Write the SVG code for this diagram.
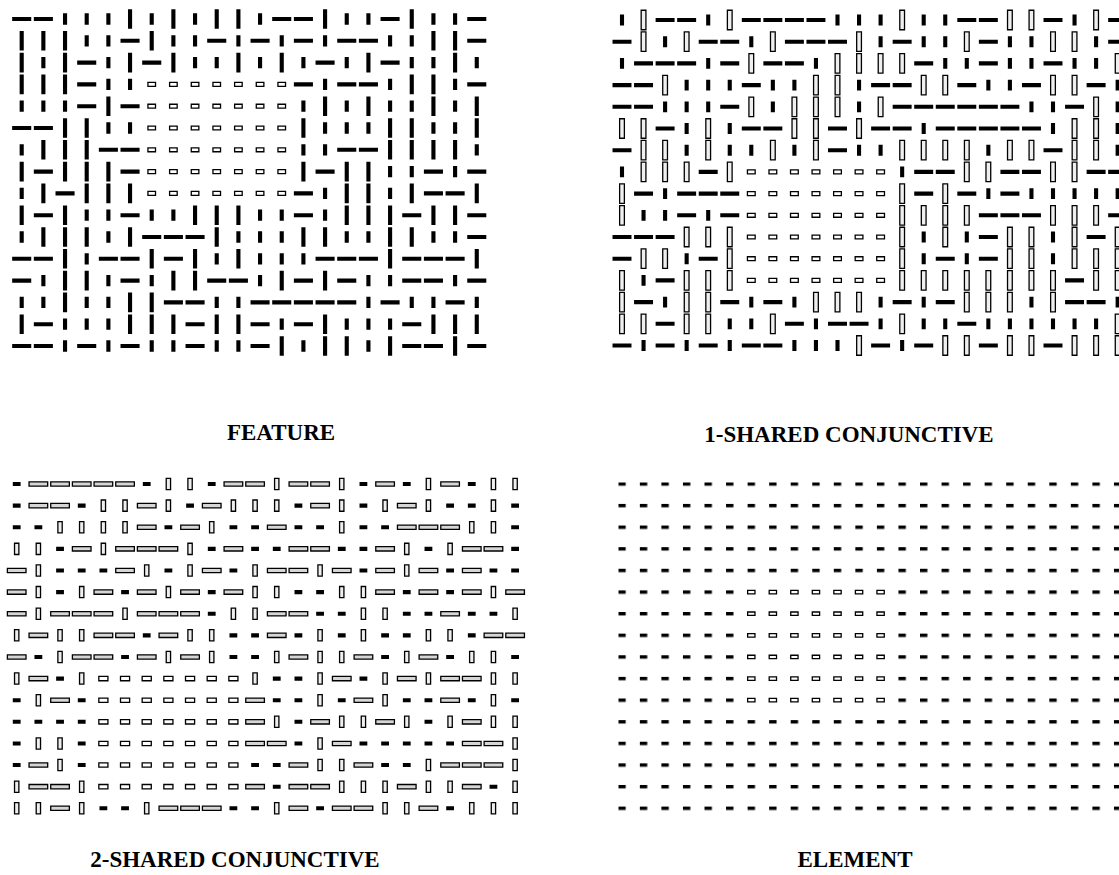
<svg xmlns="http://www.w3.org/2000/svg" width="1119" height="875" viewBox="0 0 1119 875">
<style>
.k{fill:none;stroke:#000;stroke-width:.19}
.w{fill:#fff;stroke:#000;stroke-width:.06}
.g1{fill:#efefef;stroke:#000;stroke-width:.06}
.g2{fill:#d6d6d6;stroke:#000;stroke-width:.06}
.lbl{font-family:"Liberation Serif","Times New Roman",serif;font-weight:700;font-size:23px;text-anchor:middle;fill:#000}
</style>
<defs>
<pattern id="dash" x="618.3" y="482.3" width="21.55" height="21.62" patternUnits="userSpaceOnUse"><rect width="7.4" height="3.4" fill="#000"/></pattern>
</defs>
<rect width="1119" height="875" fill="#fff"/>

<g id="feature" transform="translate(21.7 19) scale(21.67 21.8)">
<path class="k" transform="translate(-.44 0)" d="M0 0h.88M1 0h.88M12 0h.88M13 0h.88M17 0h.88M21 0h.88M5 1h.88M9 1h.88M11 1h.88M13 1h.88M15 1h.88M16 1h.88M21 1h.88M3 2h.88M6 2h.88M14 2h.88M17 2h.88M3 3h.88M13 3h.88M15 3h.88M16 3h.88M21 3h.88M3 4h.88M5 4h.88M0 5h.88M1 5h.88M4 6h.88M5 6h.88M15 6h.88M16 6h.88M1 7h.88M5 7h.88M14 7h.88M19 7h.88M21 7h.88M2 8h.88M13 8h.88M19 8h.88M20 8h.88M1 9h.88M5 9h.88M13 9h.88M18 9h.88M21 9h.88M6 10h.88M7 10h.88M8 10h.88M21 10h.88M0 11h.88M1 11h.88M4 11h.88M5 11h.88M7 11h.88M14 11h.88M15 11h.88M16 11h.88M18 11h.88M19 11h.88M20 11h.88M0 12h.88M5 12h.88M9 12h.88M10 12h.88M13 12h.88M15 12h.88M18 12h.88M19 12h.88M21 12h.88M7 13h.88M8 13h.88M11 13h.88M12 13h.88M13 13h.88M14 13h.88M15 13h.88M17 13h.88M20 13h.88M1 14h.88M8 14h.88M11 14h.88M13 14h.88M18 14h.88M0 15h.88M1 15h.88M3 15h.88M5 15h.88M8 15h.88M11 15h.88M18 15h.88M19 15h.88M21 15h.88"/>
<path class="k" transform="translate(0 -.45)" d="M5 0v.9M7 0v.9M9 0v.9M10 0v.9M14 0v.9M18 0v.9M0 1v.9M1 1v.9M2 1v.9M6 1v.9M19 1v.9M20 1v.9M0 2v.9M2 2v.9M5 2v.9M7 2v.9M10 2v.9M12 2v.9M16 2v.9M20 2v.9M0 3v.9M1 3v.9M2 3v.9M18 3v.9M19 3v.9M4 4v.9M14 4v.9M16 4v.9M19 4v.9M21 4v.9M2 5v.9M3 5v.9M13 5v.9M17 5v.9M18 5v.9M21 5v.9M1 6v.9M2 6v.9M3 6v.9M17 6v.9M18 6v.9M19 6v.9M20 6v.9M0 7v.9M2 7v.9M3 7v.9M4 7v.9M13 7v.9M15 7v.9M16 7v.9M1 8v.9M3 8v.9M4 8v.9M5 8v.9M15 8v.9M16 8v.9M18 8v.9M21 8v.9M0 9v.9M2 9v.9M8 9v.9M9 9v.9M10 9v.9M15 9v.9M16 9v.9M17 9v.9M19 9v.9M20 9v.9M1 10v.9M2 10v.9M3 10v.9M5 10v.9M9 10v.9M13 10v.9M14 10v.9M17 10v.9M18 10v.9M2 11v.9M6 11v.9M8 11v.9M10 11v.9M17 11v.9M21 11v.9M2 12v.9M3 12v.9M7 12v.9M8 12v.9M12 12v.9M14 12v.9M2 13v.9M5 13v.9M6 13v.9M0 14v.9M5 14v.9M6 14v.9M7 14v.9M9 14v.9M10 14v.9M14 14v.9M19 14v.9M20 14v.9M21 14v.9M12 15v.9M14 15v.9M15 15v.9M17 15v.9M20 15v.9"/>
<path class="k" transform="translate(0 -.26)" d="M2 0v.52M3 0v.52M4 0v.52M6 0v.52M8 0v.52M11 0v.52M15 0v.52M16 0v.52M19 0v.52M20 0v.52M3 1v.52M4 1v.52M7 1v.52M8 1v.52M10 1v.52M12 1v.52M14 1v.52M17 1v.52M18 1v.52M1 2v.52M4 2v.52M8 2v.52M9 2v.52M11 2v.52M13 2v.52M15 2v.52M18 2v.52M19 2v.52M21 2v.52M4 3v.52M5 3v.52M14 3v.52M17 3v.52M20 3v.52M0 4v.52M1 4v.52M2 4v.52M13 4v.52M15 4v.52M17 4v.52M18 4v.52M20 4v.52M4 5v.52M5 5v.52M14 5v.52M15 5v.52M16 5v.52M19 5v.52M20 5v.52M0 6v.52M13 6v.52M14 6v.52M21 6v.52M17 7v.52M18 7v.52M20 7v.52M0 8v.52M14 8v.52M17 8v.52M3 9v.52M4 9v.52M6 9v.52M7 9v.52M11 9v.52M12 9v.52M14 9v.52M0 10v.52M4 10v.52M10 10v.52M11 10v.52M12 10v.52M15 10v.52M16 10v.52M19 10v.52M20 10v.52M3 11v.52M9 11v.52M11 11v.52M12 11v.52M13 11v.52M1 12v.52M4 12v.52M6 12v.52M11 12v.52M16 12v.52M17 12v.52M20 12v.52M0 13v.52M1 13v.52M3 13v.52M4 13v.52M9 13v.52M10 13v.52M16 13v.52M18 13v.52M19 13v.52M21 13v.52M2 14v.52M3 14v.52M4 14v.52M12 14v.52M15 14v.52M16 14v.52M17 14v.52M2 15v.52M4 15v.52M6 15v.52M7 15v.52M9 15v.52M10 15v.52M13 15v.52M16 15v.52"/>
<path class="w" transform="translate(-.175 -.09)" d="M6 3h.35v.18h-.35zm1 0h.35v.18h-.35zm1 0h.35v.18h-.35zm1 0h.35v.18h-.35zm1 0h.35v.18h-.35zm1 0h.35v.18h-.35zm1 0h.35v.18h-.35zM6 4h.35v.18h-.35zm1 0h.35v.18h-.35zm1 0h.35v.18h-.35zm1 0h.35v.18h-.35zm1 0h.35v.18h-.35zm1 0h.35v.18h-.35zm1 0h.35v.18h-.35zM6 5h.35v.18h-.35zm1 0h.35v.18h-.35zm1 0h.35v.18h-.35zm1 0h.35v.18h-.35zm1 0h.35v.18h-.35zm1 0h.35v.18h-.35zm1 0h.35v.18h-.35zM6 6h.35v.18h-.35zm1 0h.35v.18h-.35zm1 0h.35v.18h-.35zm1 0h.35v.18h-.35zm1 0h.35v.18h-.35zm1 0h.35v.18h-.35zm1 0h.35v.18h-.35zM6 7h.35v.18h-.35zm1 0h.35v.18h-.35zm1 0h.35v.18h-.35zm1 0h.35v.18h-.35zm1 0h.35v.18h-.35zm1 0h.35v.18h-.35zm1 0h.35v.18h-.35zM6 8h.35v.18h-.35zm1 0h.35v.18h-.35zm1 0h.35v.18h-.35zm1 0h.35v.18h-.35zm1 0h.35v.18h-.35zm1 0h.35v.18h-.35zm1 0h.35v.18h-.35z"/>
</g>

<g id="one-shared" transform="translate(622 20) scale(21.55 21.7)">
<path class="k" transform="translate(-.44 0)" d="M2 0h.88M3 0h.88M6 0h.88M7 0h.88M8 0h.88M9 0h.88M16 0h.88M17 0h.88M20 0h.88M23 0h.88M0 1h.88M4 1h.88M5 1h.88M8 1h.88M9 1h.88M10 1h.88M13 1h.88M17 1h.88M23 1h.88M1 2h.88M2 2h.88M3 2h.88M5 2h.88M7 2h.88M8 2h.88M14 2h.88M17 2h.88M20 2h.88M0 3h.88M1 3h.88M6 3h.88M12 3h.88M13 3h.88M16 3h.88M19 3h.88M22 3h.88M0 4h.88M1 4h.88M5 4h.88M13 4h.88M14 4h.88M15 4h.88M16 4h.88M17 4h.88M18 4h.88M21 4h.88M2 5h.88M6 5h.88M7 5h.88M10 5h.88M12 5h.88M13 5h.88M15 5h.88M16 5h.88M17 5h.88M18 5h.88M19 5h.88M0 6h.88M10 6h.88M20 6h.88M4 7h.88M14 7h.88M15 7h.88M18 7h.88M19 7h.88M22 7h.88M23 7h.88M1 8h.88M3 8h.88M4 8h.88M5 8h.88M14 8h.88M16 8h.88M18 8h.88M3 9h.88M5 9h.88M17 9h.88M18 9h.88M19 9h.88M23 9h.88M0 10h.88M1 10h.88M2 10h.88M17 10h.88M22 10h.88M0 11h.88M4 11h.88M15 11h.88M17 11h.88M2 12h.88M21 12h.88M1 13h.88M5 13h.88M7 13h.88M13 13h.88M15 13h.88M21 13h.88M22 13h.88M2 14h.88M8 14h.88M10 14h.88M11 14h.88M16 14h.88M0 15h.88M2 15h.88M4 15h.88M6 15h.88M7 15h.88M12 15h.88M14 15h.88M17 15h.88M20 15h.88"/>
<path class="k" transform="translate(0 -.25)" d="M0 0v.5M4 0v.5M10 0v.5M11 0v.5M12 0v.5M14 0v.5M15 0v.5M21 0v.5M2 1v.5M6 1v.5M12 1v.5M14 1v.5M15 1v.5M18 1v.5M19 1v.5M22 1v.5M0 2v.5M4 2v.5M9 2v.5M15 2v.5M16 2v.5M18 2v.5M19 2v.5M21 2v.5M22 2v.5M3 3v.5M4 3v.5M5 3v.5M7 3v.5M8 3v.5M11 3v.5M17 3v.5M18 3v.5M23 3v.5M2 4v.5M3 4v.5M4 4v.5M7 4v.5M11 4v.5M19 4v.5M20 4v.5M23 4v.5M3 5v.5M5 5v.5M14 5v.5M20 5v.5M23 5v.5M3 6v.5M5 6v.5M6 6v.5M8 6v.5M11 6v.5M12 6v.5M17 6v.5M23 6v.5M0 7v.5M13 7v.5M2 8v.5M17 8v.5M19 8v.5M20 8v.5M21 8v.5M22 8v.5M23 8v.5M1 9v.5M2 9v.5M4 9v.5M14 10v.5M16 10v.5M20 10v.5M3 11v.5M14 11v.5M16 11v.5M20 11v.5M1 12v.5M2 13v.5M6 13v.5M8 13v.5M12 13v.5M14 13v.5M19 13v.5M23 13v.5M5 14v.5M6 14v.5M9 14v.5M12 14v.5M14 14v.5M15 14v.5M17 14v.5M18 14v.5M19 14v.5M20 14v.5M21 14v.5M22 14v.5M1 15v.5M3 15v.5M5 15v.5M8 15v.5M9 15v.5M10 15v.5M13 15v.5"/>
<path class="g1" transform="translate(-.11 -.45)" d="M1 0h.22v.9h-.22zM5 0h.22v.9h-.22zM13 0h.22v.9h-.22zM18 0h.22v.9h-.22zM19 0h.22v.9h-.22zM22 0h.22v.9h-.22zM1 1h.22v.9h-.22zM3 1h.22v.9h-.22zM7 1h.22v.9h-.22zM11 1h.22v.9h-.22zM16 1h.22v.9h-.22zM20 1h.22v.9h-.22zM21 1h.22v.9h-.22zM6 2h.22v.9h-.22zM10 2h.22v.9h-.22zM11 2h.22v.9h-.22zM12 2h.22v.9h-.22zM13 2h.22v.9h-.22zM23 2h.22v.9h-.22zM2 3h.22v.9h-.22zM9 3h.22v.9h-.22zM10 3h.22v.9h-.22zM14 3h.22v.9h-.22zM15 3h.22v.9h-.22zM20 3h.22v.9h-.22zM21 3h.22v.9h-.22zM6 4h.22v.9h-.22zM8 4h.22v.9h-.22zM9 4h.22v.9h-.22zM10 4h.22v.9h-.22zM12 4h.22v.9h-.22zM22 4h.22v.9h-.22zM0 5h.22v.9h-.22zM1 5h.22v.9h-.22zM4 5h.22v.9h-.22zM8 5h.22v.9h-.22zM9 5h.22v.9h-.22zM11 5h.22v.9h-.22zM21 5h.22v.9h-.22zM22 5h.22v.9h-.22zM1 6h.22v.9h-.22zM2 6h.22v.9h-.22zM4 6h.22v.9h-.22zM7 6h.22v.9h-.22zM9 6h.22v.9h-.22zM13 6h.22v.9h-.22zM14 6h.22v.9h-.22zM15 6h.22v.9h-.22zM16 6h.22v.9h-.22zM18 6h.22v.9h-.22zM19 6h.22v.9h-.22zM21 6h.22v.9h-.22zM22 6h.22v.9h-.22zM1 7h.22v.9h-.22zM2 7h.22v.9h-.22zM3 7h.22v.9h-.22zM5 7h.22v.9h-.22zM16 7h.22v.9h-.22zM17 7h.22v.9h-.22zM20 7h.22v.9h-.22zM21 7h.22v.9h-.22zM0 8h.22v.9h-.22zM13 8h.22v.9h-.22zM15 8h.22v.9h-.22zM0 9h.22v.9h-.22zM13 9h.22v.9h-.22zM14 9h.22v.9h-.22zM15 9h.22v.9h-.22zM16 9h.22v.9h-.22zM20 9h.22v.9h-.22zM21 9h.22v.9h-.22zM22 9h.22v.9h-.22zM3 10h.22v.9h-.22zM4 10h.22v.9h-.22zM5 10h.22v.9h-.22zM13 10h.22v.9h-.22zM15 10h.22v.9h-.22zM18 10h.22v.9h-.22zM19 10h.22v.9h-.22zM21 10h.22v.9h-.22zM23 10h.22v.9h-.22zM1 11h.22v.9h-.22zM2 11h.22v.9h-.22zM5 11h.22v.9h-.22zM13 11h.22v.9h-.22zM18 11h.22v.9h-.22zM19 11h.22v.9h-.22zM21 11h.22v.9h-.22zM22 11h.22v.9h-.22zM23 11h.22v.9h-.22zM0 12h.22v.9h-.22zM3 12h.22v.9h-.22zM4 12h.22v.9h-.22zM5 12h.22v.9h-.22zM13 12h.22v.9h-.22zM14 12h.22v.9h-.22zM15 12h.22v.9h-.22zM16 12h.22v.9h-.22zM17 12h.22v.9h-.22zM18 12h.22v.9h-.22zM19 12h.22v.9h-.22zM20 12h.22v.9h-.22zM22 12h.22v.9h-.22zM23 12h.22v.9h-.22zM0 13h.22v.9h-.22zM3 13h.22v.9h-.22zM4 13h.22v.9h-.22zM9 13h.22v.9h-.22zM10 13h.22v.9h-.22zM11 13h.22v.9h-.22zM16 13h.22v.9h-.22zM17 13h.22v.9h-.22zM18 13h.22v.9h-.22zM20 13h.22v.9h-.22zM0 14h.22v.9h-.22zM1 14h.22v.9h-.22zM3 14h.22v.9h-.22zM4 14h.22v.9h-.22zM7 14h.22v.9h-.22zM13 14h.22v.9h-.22zM23 14h.22v.9h-.22zM11 15h.22v.9h-.22zM15 15h.22v.9h-.22zM16 15h.22v.9h-.22zM18 15h.22v.9h-.22zM19 15h.22v.9h-.22zM21 15h.22v.9h-.22zM22 15h.22v.9h-.22zM23 15h.22v.9h-.22z"/>
<path class="w" transform="translate(-.18 -.09)" d="M6 7h.36v.18h-.36zm1 0h.36v.18h-.36zm1 0h.36v.18h-.36zm1 0h.36v.18h-.36zm1 0h.36v.18h-.36zm1 0h.36v.18h-.36zm1 0h.36v.18h-.36zM6 8h.36v.18h-.36zm1 0h.36v.18h-.36zm1 0h.36v.18h-.36zm1 0h.36v.18h-.36zm1 0h.36v.18h-.36zm1 0h.36v.18h-.36zm1 0h.36v.18h-.36zM6 9h.36v.18h-.36zm1 0h.36v.18h-.36zm1 0h.36v.18h-.36zm1 0h.36v.18h-.36zm1 0h.36v.18h-.36zm1 0h.36v.18h-.36zm1 0h.36v.18h-.36zM6 10h.36v.18h-.36zm1 0h.36v.18h-.36zm1 0h.36v.18h-.36zm1 0h.36v.18h-.36zm1 0h.36v.18h-.36zm1 0h.36v.18h-.36zm1 0h.36v.18h-.36zM6 11h.36v.18h-.36zm1 0h.36v.18h-.36zm1 0h.36v.18h-.36zm1 0h.36v.18h-.36zm1 0h.36v.18h-.36zm1 0h.36v.18h-.36zm1 0h.36v.18h-.36zM6 12h.36v.18h-.36zm1 0h.36v.18h-.36zm1 0h.36v.18h-.36zm1 0h.36v.18h-.36zm1 0h.36v.18h-.36zm1 0h.36v.18h-.36zm1 0h.36v.18h-.36z"/>
</g>

<g id="two-shared" transform="translate(16.7 484) scale(21.67 21.62)">
<path class="g2" transform="translate(-.43 -.1)" d="M1 0h.86v.2h-.86zM2 0h.86v.2h-.86zM3 0h.86v.2h-.86zM4 0h.86v.2h-.86zM5 0h.86v.2h-.86zM10 0h.86v.2h-.86zM11 0h.86v.2h-.86zM13 0h.86v.2h-.86zM14 0h.86v.2h-.86zM17 0h.86v.2h-.86zM20 0h.86v.2h-.86zM1 1h.86v.2h-.86zM2 1h.86v.2h-.86zM6 1h.86v.2h-.86zM9 1h.86v.2h-.86zM14 1h.86v.2h-.86zM18 1h.86v.2h-.86zM6 2h.86v.2h-.86zM8 2h.86v.2h-.86zM12 2h.86v.2h-.86zM18 2h.86v.2h-.86zM19 2h.86v.2h-.86zM20 2h.86v.2h-.86zM3 3h.86v.2h-.86zM5 3h.86v.2h-.86zM6 3h.86v.2h-.86zM7 3h.86v.2h-.86zM10 3h.86v.2h-.86zM13 3h.86v.2h-.86zM14 3h.86v.2h-.86zM17 3h.86v.2h-.86zM21 3h.86v.2h-.86zM22 3h.86v.2h-.86zM0 4h.86v.2h-.86zM5 4h.86v.2h-.86zM9 4h.86v.2h-.86zM12 4h.86v.2h-.86zM13 4h.86v.2h-.86zM15 4h.86v.2h-.86zM17 4h.86v.2h-.86zM19 4h.86v.2h-.86zM21 4h.86v.2h-.86zM0 5h.86v.2h-.86zM4 5h.86v.2h-.86zM6 5h.86v.2h-.86zM8 5h.86v.2h-.86zM10 5h.86v.2h-.86zM17 5h.86v.2h-.86zM19 5h.86v.2h-.86zM21 5h.86v.2h-.86zM23 5h.86v.2h-.86zM0 6h.86v.2h-.86zM2 6h.86v.2h-.86zM3 6h.86v.2h-.86zM4 6h.86v.2h-.86zM6 6h.86v.2h-.86zM7 6h.86v.2h-.86zM8 6h.86v.2h-.86zM12 6h.86v.2h-.86zM13 6h.86v.2h-.86zM20 6h.86v.2h-.86zM1 7h.86v.2h-.86zM4 7h.86v.2h-.86zM5 7h.86v.2h-.86zM7 7h.86v.2h-.86zM12 7h.86v.2h-.86zM22 7h.86v.2h-.86zM23 7h.86v.2h-.86zM0 8h.86v.2h-.86zM3 8h.86v.2h-.86zM4 8h.86v.2h-.86zM6 8h.86v.2h-.86zM8 8h.86v.2h-.86zM13 8h.86v.2h-.86zM16 8h.86v.2h-.86zM19 8h.86v.2h-.86zM1 9h.86v.2h-.86zM15 9h.86v.2h-.86zM18 9h.86v.2h-.86zM20 9h.86v.2h-.86zM21 9h.86v.2h-.86zM2 10h.86v.2h-.86zM11 10h.86v.2h-.86zM16 10h.86v.2h-.86zM20 10h.86v.2h-.86zM11 11h.86v.2h-.86zM14 11h.86v.2h-.86zM17 11h.86v.2h-.86zM21 11h.86v.2h-.86zM11 12h.86v.2h-.86zM12 12h.86v.2h-.86zM15 12h.86v.2h-.86zM21 12h.86v.2h-.86zM22 12h.86v.2h-.86zM1 13h.86v.2h-.86zM13 13h.86v.2h-.86zM16 13h.86v.2h-.86zM20 13h.86v.2h-.86zM21 13h.86v.2h-.86zM22 13h.86v.2h-.86zM1 14h.86v.2h-.86zM2 14h.86v.2h-.86zM11 14h.86v.2h-.86zM13 14h.86v.2h-.86zM14 14h.86v.2h-.86zM18 14h.86v.2h-.86zM21 14h.86v.2h-.86zM2 15h.86v.2h-.86zM7 15h.86v.2h-.86zM8 15h.86v.2h-.86zM9 15h.86v.2h-.86zM13 15h.86v.2h-.86zM15 15h.86v.2h-.86zM16 15h.86v.2h-.86zM19 15h.86v.2h-.86z"/>
<path class="k" transform="translate(-.18 0)" d="M0 0h.36M6 0h.36M9 0h.36M16 0h.36M18 0h.36M21 0h.36M0 1h.36M3 1h.36M8 1h.36M13 1h.36M16 1h.36M20 1h.36M21 1h.36M23 1h.36M0 2h.36M1 2h.36M7 2h.36M10 2h.36M11 2h.36M13 2h.36M14 2h.36M16 2h.36M17 2h.36M23 2h.36M2 3h.36M9 3h.36M11 3h.36M12 3h.36M15 3h.36M16 3h.36M19 3h.36M23 3h.36M2 4h.36M3 4h.36M4 4h.36M7 4h.36M10 4h.36M16 4h.36M20 4h.36M22 4h.36M23 4h.36M2 5h.36M5 5h.36M9 5h.36M13 5h.36M14 5h.36M18 5h.36M20 5h.36M9 6h.36M14 6h.36M15 6h.36M18 6h.36M19 6h.36M21 6h.36M22 6h.36M6 7h.36M10 7h.36M11 7h.36M13 7h.36M15 7h.36M17 7h.36M18 7h.36M21 7h.36M1 8h.36M5 8h.36M10 8h.36M11 8h.36M17 8h.36M20 8h.36M23 8h.36M2 9h.36M12 9h.36M13 9h.36M16 9h.36M0 10h.36M3 10h.36M12 10h.36M13 10h.36M15 10h.36M18 10h.36M19 10h.36M21 10h.36M23 10h.36M0 11h.36M1 11h.36M2 11h.36M3 11h.36M13 11h.36M19 11h.36M0 12h.36M3 12h.36M13 12h.36M16 12h.36M17 12h.36M18 12h.36M19 12h.36M20 12h.36M0 13h.36M3 13h.36M11 13h.36M12 13h.36M17 13h.36M18 13h.36M12 14h.36M22 14h.36M4 15h.36M5 15h.36M10 15h.36M11 15h.36M14 15h.36M20 15h.36"/>
<path class="g1" transform="translate(-.1 -.26)" d="M7 0h.2v.52h-.2zM8 0h.2v.52h-.2zM12 0h.2v.52h-.2zM15 0h.2v.52h-.2zM19 0h.2v.52h-.2zM22 0h.2v.52h-.2zM23 0h.2v.52h-.2zM4 1h.2v.52h-.2zM5 1h.2v.52h-.2zM7 1h.2v.52h-.2zM10 1h.2v.52h-.2zM11 1h.2v.52h-.2zM12 1h.2v.52h-.2zM15 1h.2v.52h-.2zM17 1h.2v.52h-.2zM19 1h.2v.52h-.2zM22 1h.2v.52h-.2zM2 2h.2v.52h-.2zM3 2h.2v.52h-.2zM4 2h.2v.52h-.2zM5 2h.2v.52h-.2zM9 2h.2v.52h-.2zM15 2h.2v.52h-.2zM21 2h.2v.52h-.2zM22 2h.2v.52h-.2zM0 3h.2v.52h-.2zM1 3h.2v.52h-.2zM4 3h.2v.52h-.2zM8 3h.2v.52h-.2zM18 3h.2v.52h-.2zM20 3h.2v.52h-.2zM1 4h.2v.52h-.2zM6 4h.2v.52h-.2zM8 4h.2v.52h-.2zM11 4h.2v.52h-.2zM14 4h.2v.52h-.2zM18 4h.2v.52h-.2zM1 5h.2v.52h-.2zM3 5h.2v.52h-.2zM7 5h.2v.52h-.2zM11 5h.2v.52h-.2zM12 5h.2v.52h-.2zM15 5h.2v.52h-.2zM16 5h.2v.52h-.2zM22 5h.2v.52h-.2zM1 6h.2v.52h-.2zM5 6h.2v.52h-.2zM10 6h.2v.52h-.2zM11 6h.2v.52h-.2zM16 6h.2v.52h-.2zM17 6h.2v.52h-.2zM23 6h.2v.52h-.2zM0 7h.2v.52h-.2zM2 7h.2v.52h-.2zM3 7h.2v.52h-.2zM8 7h.2v.52h-.2zM9 7h.2v.52h-.2zM14 7h.2v.52h-.2zM16 7h.2v.52h-.2zM19 7h.2v.52h-.2zM20 7h.2v.52h-.2zM2 8h.2v.52h-.2zM7 8h.2v.52h-.2zM9 8h.2v.52h-.2zM12 8h.2v.52h-.2zM14 8h.2v.52h-.2zM15 8h.2v.52h-.2zM18 8h.2v.52h-.2zM21 8h.2v.52h-.2zM22 8h.2v.52h-.2zM0 9h.2v.52h-.2zM3 9h.2v.52h-.2zM11 9h.2v.52h-.2zM14 9h.2v.52h-.2zM17 9h.2v.52h-.2zM19 9h.2v.52h-.2zM22 9h.2v.52h-.2zM23 9h.2v.52h-.2zM1 10h.2v.52h-.2zM14 10h.2v.52h-.2zM17 10h.2v.52h-.2zM22 10h.2v.52h-.2zM12 11h.2v.52h-.2zM15 11h.2v.52h-.2zM16 11h.2v.52h-.2zM18 11h.2v.52h-.2zM20 11h.2v.52h-.2zM22 11h.2v.52h-.2zM23 11h.2v.52h-.2zM1 12h.2v.52h-.2zM2 12h.2v.52h-.2zM14 12h.2v.52h-.2zM23 12h.2v.52h-.2zM2 13h.2v.52h-.2zM14 13h.2v.52h-.2zM15 13h.2v.52h-.2zM19 13h.2v.52h-.2zM23 13h.2v.52h-.2zM0 14h.2v.52h-.2zM3 14h.2v.52h-.2zM15 14h.2v.52h-.2zM16 14h.2v.52h-.2zM17 14h.2v.52h-.2zM19 14h.2v.52h-.2zM20 14h.2v.52h-.2zM23 14h.2v.52h-.2zM0 15h.2v.52h-.2zM1 15h.2v.52h-.2zM3 15h.2v.52h-.2zM6 15h.2v.52h-.2zM12 15h.2v.52h-.2zM17 15h.2v.52h-.2zM18 15h.2v.52h-.2zM21 15h.2v.52h-.2zM22 15h.2v.52h-.2zM23 15h.2v.52h-.2z"/>
<path class="w" transform="translate(-.21 -.1)" d="M4 9h.42v.2h-.42zm1 0h.42v.2h-.42zm1 0h.42v.2h-.42zm1 0h.42v.2h-.42zm1 0h.42v.2h-.42zm1 0h.42v.2h-.42zm1 0h.42v.2h-.42zM4 10h.42v.2h-.42zm1 0h.42v.2h-.42zm1 0h.42v.2h-.42zm1 0h.42v.2h-.42zm1 0h.42v.2h-.42zm1 0h.42v.2h-.42zm1 0h.42v.2h-.42zM4 11h.42v.2h-.42zm1 0h.42v.2h-.42zm1 0h.42v.2h-.42zm1 0h.42v.2h-.42zm1 0h.42v.2h-.42zm1 0h.42v.2h-.42zm1 0h.42v.2h-.42zM4 12h.42v.2h-.42zm1 0h.42v.2h-.42zm1 0h.42v.2h-.42zm1 0h.42v.2h-.42zm1 0h.42v.2h-.42zm1 0h.42v.2h-.42zm1 0h.42v.2h-.42zM4 13h.42v.2h-.42zm1 0h.42v.2h-.42zm1 0h.42v.2h-.42zm1 0h.42v.2h-.42zm1 0h.42v.2h-.42zm1 0h.42v.2h-.42zm1 0h.42v.2h-.42zM4 14h.42v.2h-.42zm1 0h.42v.2h-.42zm1 0h.42v.2h-.42zm1 0h.42v.2h-.42zm1 0h.42v.2h-.42zm1 0h.42v.2h-.42zm1 0h.42v.2h-.42z"/>
</g>

<g id="element">
<rect x="618.3" y="482.3" width="517.2" height="340" fill="url(#dash)"/>
<rect x="740.5" y="581.3" width="150.9" height="129.7" fill="#fff"/>
<g transform="translate(622 484) scale(21.55 21.62)">
<path class="w" transform="translate(-.17 -.08)" d="M6 5h.34v.16h-.34zm1 0h.34v.16h-.34zm1 0h.34v.16h-.34zm1 0h.34v.16h-.34zm1 0h.34v.16h-.34zm1 0h.34v.16h-.34zm1 0h.34v.16h-.34zM6 6h.34v.16h-.34zm1 0h.34v.16h-.34zm1 0h.34v.16h-.34zm1 0h.34v.16h-.34zm1 0h.34v.16h-.34zm1 0h.34v.16h-.34zm1 0h.34v.16h-.34zM6 7h.34v.16h-.34zm1 0h.34v.16h-.34zm1 0h.34v.16h-.34zm1 0h.34v.16h-.34zm1 0h.34v.16h-.34zm1 0h.34v.16h-.34zm1 0h.34v.16h-.34zM6 8h.34v.16h-.34zm1 0h.34v.16h-.34zm1 0h.34v.16h-.34zm1 0h.34v.16h-.34zm1 0h.34v.16h-.34zm1 0h.34v.16h-.34zm1 0h.34v.16h-.34zM6 9h.34v.16h-.34zm1 0h.34v.16h-.34zm1 0h.34v.16h-.34zm1 0h.34v.16h-.34zm1 0h.34v.16h-.34zm1 0h.34v.16h-.34zm1 0h.34v.16h-.34zM6 10h.34v.16h-.34zm1 0h.34v.16h-.34zm1 0h.34v.16h-.34zm1 0h.34v.16h-.34zm1 0h.34v.16h-.34zm1 0h.34v.16h-.34zm1 0h.34v.16h-.34z"/>
</g>
</g>

<g id="labels">
<text class="lbl" x="281" y="440">FEATURE</text>
<text class="lbl" x="849" y="442">1-SHARED CONJUNCTIVE</text>
<text class="lbl" x="235" y="867">2-SHARED CONJUNCTIVE</text>
<text class="lbl" x="855" y="867">ELEMENT</text>
</g>
</svg>
